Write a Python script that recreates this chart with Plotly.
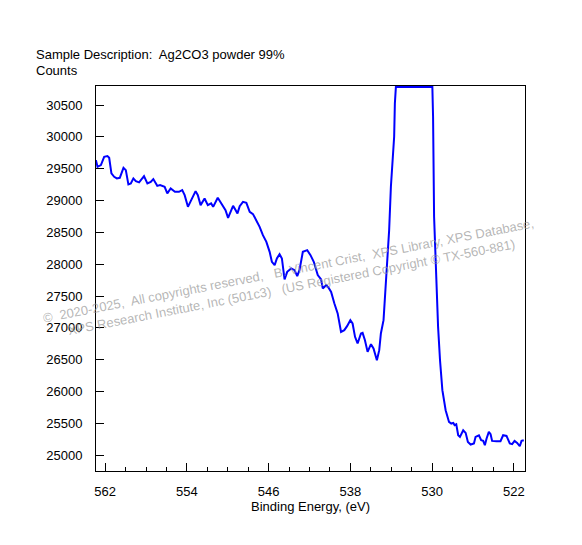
import plotly.graph_objects as go

# Ag2CO3 O 1s region (top of the peak is clipped at the frame)
binding_energy = [
    562.91, 562.75, 562.42, 562.10, 561.78, 561.61, 561.39, 561.12, 560.86, 560.57,
    560.21, 559.98, 559.73, 559.49, 559.24, 559.00, 558.68, 558.20, 557.87, 557.54,
    557.29, 556.90, 556.63, 556.18, 555.92, 555.59, 555.17, 554.78, 554.46, 554.22,
    553.90, 553.58, 553.15, 552.93, 552.66, 552.27, 551.95, 551.63, 551.43, 550.98,
    550.71, 550.46, 550.22, 549.97, 549.74, 549.48, 549.32, 549.05, 548.83, 548.51,
    548.18, 547.85, 547.53, 547.20, 546.88, 546.56, 546.22, 545.90, 545.68, 545.41,
    545.19, 544.93, 544.70, 544.44, 544.18, 543.79, 543.46, 543.20, 542.98, 542.65,
    542.22, 541.90, 541.58, 541.19, 540.86, 540.70, 540.37, 540.15, 539.88, 539.56,
    539.24, 538.91, 538.59, 538.32, 538.00, 537.78, 537.54, 537.29, 536.96, 536.80,
    536.57, 536.31, 535.98, 535.73, 535.40, 535.17, 535.01, 534.75, 534.52, 534.36,
    534.20, 534.03, 533.87, 533.71, 533.64, 533.54, 529.97, 529.90, 529.80, 529.58,
    529.41, 529.22, 528.99, 528.67, 528.34, 528.12, 527.92, 527.79, 527.63, 527.44,
    527.27, 526.95, 526.71, 526.49, 526.22, 525.90, 525.74, 525.41, 525.19, 524.99,
    524.83, 524.66, 524.44, 524.27, 524.12, 523.69, 523.30, 523.04, 522.71, 522.39,
    522.16, 521.92, 521.67, 521.41, 521.24, 521.02,
]
counts = [
    29635, 29530, 29557, 29687, 29698, 29672, 29426, 29373, 29348, 29357,
    29514, 29478, 29253, 29269, 29348, 29305, 29285, 29384, 29269, 29294,
    29337, 29231, 29242, 29216, 29112, 29191, 29137, 29137, 29164, 29085,
    28901, 29007, 29148, 29085, 28928, 29033, 28928, 28955, 28901, 29043,
    28980, 28901, 28849, 28728, 28823, 28917, 28876, 28798, 28912, 28980,
    28964, 28823, 28787, 28692, 28587, 28456, 28351, 28194, 28037, 27985,
    28090, 28158, 28090, 27760, 27880, 27933, 27906, 27812, 27906, 28194,
    28221, 28142, 28037, 27828, 27760, 27619, 27670, 27634, 27565, 27383,
    27226, 26936, 26963, 27026, 27120, 27068, 26858, 26754, 26911, 26921,
    26806, 26622, 26743, 26675, 26491, 26649, 26911, 27120, 27644, 28115,
    28535, 29216, 29584, 30002, 30527, 30785, 30785, 30316, 28744, 27697,
    27015, 26491, 26020, 25705, 25521, 25496, 25506, 25470, 25485, 25312,
    25286, 25391, 25349, 25207, 25166, 25182, 25286, 25312, 25234, 25223,
    25155, 25260, 25364, 25328, 25223, 25218, 25218, 25312, 25301, 25182,
    25171, 25223, 25192, 25139, 25223, 25234,
]

x_ticks = [562, 554, 546, 538, 530, 522]
y_ticks = [25000, 25500, 26000, 26500, 27000, 27500, 28000, 28500, 29000, 29500, 30000, 30500]

font = "Arial, Liberation Sans, sans-serif"

fig = go.Figure()
fig.add_trace(go.Scatter(x=binding_energy, y=counts, mode="lines",
                         line=dict(color="#0000FF", width=2), showlegend=False))

# page body adds 8px, so the figure is 8px smaller and shifted
fig.update_layout(
    width=574, height=537,
    margin=dict(l=88, r=57, t=78, b=74),
    plot_bgcolor="white", paper_bgcolor="white",
    font=dict(family=font, size=13, color="black"),
)
fig.update_xaxes(
    range=[562.9, 520.9], tickvals=x_ticks, showgrid=False, zeroline=False,
    showline=True, linecolor="black", linewidth=1, mirror=True,
    ticks="inside", ticklen=8, tickcolor="black", tickfont=dict(size=13), ticklabelstandoff=8,
    minor=dict(dtick=2, ticks="inside", ticklen=4, tickcolor="black"),
    title=dict(text="Binding Energy, (eV)", standoff=4, font=dict(size=13)),
)
fig.update_yaxes(
    range=[24750, 30800], tickvals=y_ticks, tickformat="d", showgrid=False, zeroline=False,
    showline=True, linecolor="black", linewidth=1, mirror=True,
    ticks="inside", ticklen=8, tickcolor="black", ticklabelstandoff=10, tickfont=dict(size=13),
    layer="below traces",
)

fig.add_annotation(text="Sample Description:  Ag2CO3 powder 99%", xref="paper", yref="paper",
                   x=-0.145, y=1.083, xanchor="left", yanchor="middle", showarrow=False)
fig.add_annotation(text="Counts", xref="paper", yref="paper",
                   x=-0.145, y=1.039, xanchor="left", yanchor="middle", showarrow=False)

# watermark
fig.add_annotation(
    text="©  2020-2025,  All copyrights reserved,   B. Vincent Crist,  XPS Library, XPS Database,"
         "<br>XPS Research Institute, Inc (501c3)   (US Registered Copyright © TX-560-881)",
    xref="paper", yref="paper", x=0.452, y=0.5, xanchor="center", yanchor="middle",
    textangle=-11, showarrow=False, font=dict(size=13, color="rgba(150,150,150,0.7)"),
)

fig.write_html("out.html")
